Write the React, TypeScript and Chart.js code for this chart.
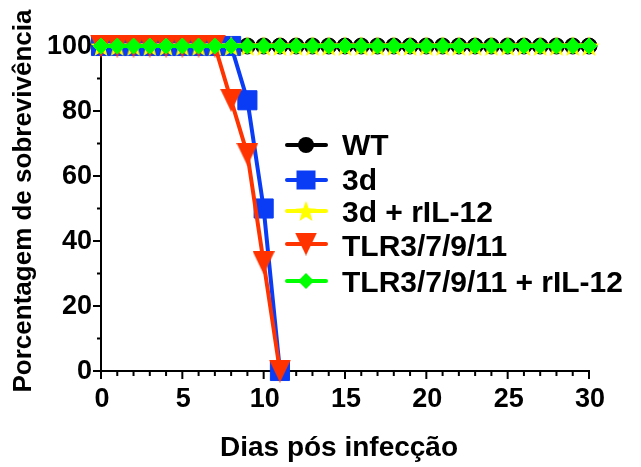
import React, { useEffect, useRef } from 'react';
import { Chart, registerables } from 'chart.js';

Chart.register(...registerables);

// ---------------- data ----------------
const seriesNames = ['WT', '3d', '3d + rIL-12', 'TLR3/7/9/11', 'TLR3/7/9/11 + rIL-12'];
const seriesColors = ['#000000', '#0A3CF5', '#FFFF00', '#FF3300', '#00FF00'];

const xTickLabels = ['0', '5', '10', '15', '20', '25', '30'];
const yTickLabels = ['0', '20', '40', '60', '80', '100'];

const wtDays = [0, 1, 2, 3, 4, 5, 6, 7, 8, 9, 10, 11, 12, 13, 14, 15, 16, 17, 18, 19, 20, 21, 22, 23, 24, 25, 26, 27, 28, 29, 30];
const wtValues = [100, 100, 100, 100, 100, 100, 100, 100, 100, 100, 100, 100, 100, 100, 100, 100, 100, 100, 100, 100, 100, 100, 100, 100, 100, 100, 100, 100, 100, 100, 100];

const d3Days = [0, 1, 2, 3, 4, 5, 6, 7, 8, 9, 10, 11];
const d3Values = [100, 100, 100, 100, 100, 100, 100, 100, 100, 83.3, 50, 0];

const d3rDays = [0, 1, 2, 3, 4, 5, 6, 7, 8, 9, 10, 11, 12, 13, 14, 15, 16, 17, 18, 19, 20, 21, 22, 23, 24, 25, 26, 27, 28, 29, 30];
const d3rValues = [100, 100, 100, 100, 100, 100, 100, 100, 100, 100, 100, 100, 100, 100, 100, 100, 100, 100, 100, 100, 100, 100, 100, 100, 100, 100, 100, 100, 100, 100, 100];

const tlrDays = [0, 1, 2, 3, 4, 5, 6, 7, 8, 9, 10, 11];
const tlrValues = [100, 100, 100, 100, 100, 100, 100, 100, 83.3, 66.7, 33.3, 0];

const tlrrDays = [0, 1, 2, 3, 4, 5, 6, 7, 8, 9, 10, 11, 12, 13, 14, 15, 16, 17, 18, 19, 20, 21, 22, 23, 24, 25, 26, 27, 28, 29, 30];
const tlrrValues = [100, 100, 100, 100, 100, 100, 100, 100, 100, 100, 100, 100, 100, 100, 100, 100, 100, 100, 100, 100, 100, 100, 100, 100, 100, 100, 100, 100, 100, 100, 100];

const xTitle = 'Dias pós infecção';
const yTitle = 'Porcentagem de sobrevivência';

const FONT = "'Liberation Sans', Arial, sans-serif";

function toPoints(xs: number[], ys: number[]) {
  return xs.map((x, i) => ({ x, y: ys[i] }));
}

function starPath(ctx: CanvasRenderingContext2D, cx: number, cy: number, outer: number, inner: number) {
  ctx.beginPath();
  for (let i = 0; i < 10; i++) {
    const r = i % 2 === 0 ? outer : inner;
    const a = -Math.PI / 2 + (i * Math.PI) / 5;
    const px = cx + Math.cos(a) * r;
    const py = cy + Math.sin(a) * r;
    if (i === 0) ctx.moveTo(px, py);
    else ctx.lineTo(px, py);
  }
  ctx.closePath();
}

function makeStar(color: string, outer: number) {
  const c = document.createElement('canvas');
  const s = Math.ceil(outer * 2 + 2);
  c.width = s;
  c.height = s;
  const g = c.getContext('2d')!;
  g.fillStyle = color;
  starPath(g, s / 2, s / 2 + outer * 0.1, outer, outer * 0.42);
  g.fill();
  return c;
}

function makeTriangle(color: string, w: number, h: number) {
  const c = document.createElement('canvas');
  c.width = w;
  c.height = h;
  const g = c.getContext('2d')!;
  g.fillStyle = color;
  g.beginPath();
  g.moveTo(0, 0);
  g.lineTo(w, 0);
  g.lineTo(w / 2, h);
  g.closePath();
  g.fill();
  return c;
}

function drawMarker(ctx: CanvasRenderingContext2D, idx: number, x: number, y: number, imgs: HTMLCanvasElement[]) {
  const color = seriesColors[idx];
  ctx.save();
  ctx.fillStyle = color;
  ctx.beginPath();
  if (idx === 0) {
    ctx.arc(x, y, 8, 0, Math.PI * 2);
    ctx.fill();
  } else if (idx === 1) {
    const h = 9.5;
    ctx.rect(x - h, y - h, 2 * h, 2 * h);
    ctx.fill();
  } else if (idx === 2 || idx === 3) {
    const img = idx === 2 ? imgs[0] : imgs[1];
    ctx.drawImage(img, x - img.width / 2, y - img.height / 2);
  } else {
    const r = 8;
    ctx.moveTo(x, y - r);
    ctx.lineTo(x + r, y);
    ctx.lineTo(x, y + r);
    ctx.lineTo(x - r, y);
    ctx.closePath();
    ctx.fill();
  }
  ctx.restore();
}

export default function App() {
  const ref = useRef<HTMLCanvasElement | null>(null);

  useEffect(() => {
    document.body.style.margin = '0';
    const canvas = ref.current;
    if (!canvas) return;
    const star = makeStar(seriesColors[2], 11);
    const tri = makeTriangle(seriesColors[3], 22, 23);

    const axesPlugin = {
      id: 'customAxes',
      beforeDatasetsDraw(chart: any) {
        const ctx: CanvasRenderingContext2D = chart.ctx;
        const xs = chart.scales.x;
        const ys = chart.scales.y;
        const x0 = xs.getPixelForValue(0);
        const x1 = xs.getPixelForValue(30);
        const y0 = ys.getPixelForValue(0);
        const y1 = ys.getPixelForValue(100);
        ctx.save();
        ctx.strokeStyle = '#000';
        ctx.lineWidth = 2;
        ctx.lineCap = 'butt';
        ctx.beginPath();
        ctx.moveTo(x0, y1);
        ctx.lineTo(x0, y0);
        ctx.moveTo(x0 - 8, y0);
        ctx.lineTo(x1 + 1, y0);
        ctx.stroke();
        // x ticks
        ctx.beginPath();
        for (let d = 0; d <= 30; d++) {
          const px = xs.getPixelForValue(d);
          const len = d % 5 === 0 ? 8 : 5;
          ctx.moveTo(px, y0);
          ctx.lineTo(px, y0 + len);
        }
        // y ticks
        for (let v = 0; v <= 100; v += 10) {
          const py = ys.getPixelForValue(v);
          const len = v % 20 === 0 ? 8 : 4;
          ctx.moveTo(x0, py);
          ctx.lineTo(x0 - len, py);
        }
        ctx.stroke();
        ctx.restore();
      },
      afterDraw(chart: any) {
        const ctx: CanvasRenderingContext2D = chart.ctx;
        const xs = chart.scales.x;
        const ys = chart.scales.y;
        ctx.save();
        ctx.fillStyle = '#000';
        ctx.font = `bold 27px ${FONT}`;
        ctx.textAlign = 'center';
        ctx.textBaseline = 'middle';
        xTickLabels.forEach((t) => {
          ctx.fillText(t, xs.getPixelForValue(Number(t)) + 1, 400);
        });
        ctx.textAlign = 'right';
        yTickLabels.forEach((t) => {
          ctx.fillText(t, 92, ys.getPixelForValue(Number(t)) + 1);
        });
        // titles
        ctx.font = `bold 28px ${FONT}`;
        ctx.textAlign = 'center';
        ctx.fillText(xTitle, 339, 448);
        ctx.save();
        ctx.font = `bold 26px ${FONT}`;
        ctx.translate(24, 201);
        ctx.rotate(-Math.PI / 2);
        ctx.fillText(yTitle, 0, 0);
        ctx.restore();
        // legend
        const rows = [145, 180, 211, 244, 281];
        const textRows = [147, 182, 214, 248, 284];
        ctx.font = `bold 30px ${FONT}`;
        ctx.textAlign = 'left';
        rows.forEach((ry, i) => {
          ctx.save();
          ctx.strokeStyle = seriesColors[i];
          ctx.lineWidth = 4;
          ctx.lineCap = 'round';
          ctx.beginPath();
          ctx.moveTo(287, ry);
          ctx.lineTo(326, ry);
          ctx.stroke();
          ctx.restore();
          drawMarker(ctx, i, 306, ry, [star, tri]);
          ctx.fillStyle = '#000';
          ctx.fillText(seriesNames[i], 342, textRows[i]);
        });
        ctx.restore();
      },
    };

    const common = {
      borderWidth: 4,
      tension: 0,
      clip: false as any,
      pointBorderWidth: 1,
    };

    const chart = new Chart(canvas, {
      type: 'line',
      data: {
        datasets: [
          {
            ...common,
            label: seriesNames[0],
            data: toPoints(wtDays, wtValues),
            borderColor: seriesColors[0],
            backgroundColor: seriesColors[0],
            pointStyle: 'circle',
            pointRadius: 8,
            order: 5,
          },
          {
            ...common,
            label: seriesNames[1],
            data: toPoints(d3Days, d3Values),
            borderColor: seriesColors[1],
            backgroundColor: seriesColors[1],
            pointStyle: 'rect',
            pointRadius: 13.5,
            order: 4,
          },
          {
            ...common,
            label: seriesNames[2],
            data: toPoints(d3rDays, d3rValues),
            borderColor: seriesColors[2],
            backgroundColor: seriesColors[2],
            pointStyle: star as any,
            pointRadius: 11,
            order: 3,
          },
          {
            ...common,
            label: seriesNames[3],
            data: toPoints(tlrDays, tlrValues),
            borderColor: seriesColors[3],
            backgroundColor: seriesColors[3],
            pointStyle: tri as any,
            pointRadius: 12,
            order: 2,
          },
          {
            ...common,
            label: seriesNames[4],
            data: toPoints(tlrrDays, tlrrValues),
            borderColor: seriesColors[4],
            backgroundColor: seriesColors[4],
            pointStyle: 'rectRot',
            pointRadius: 8,
            order: 1,
          },
        ] as any,
      },
      options: {
        animation: false,
        responsive: false,
        devicePixelRatio: 1,
        layout: { padding: { left: 101, right: 52, top: 46, bottom: 96 } },
        plugins: {
          legend: { display: false },
          tooltip: { enabled: false },
        },
        scales: {
          x: { type: 'linear', min: 0, max: 30, display: false },
          y: { type: 'linear', min: 0, max: 100, display: false },
        },
      },
      plugins: [axesPlugin],
    });

    return () => chart.destroy();
  }, []);

  return <canvas ref={ref} width={641} height={467} style={{ display: 'block' }} />;
}
